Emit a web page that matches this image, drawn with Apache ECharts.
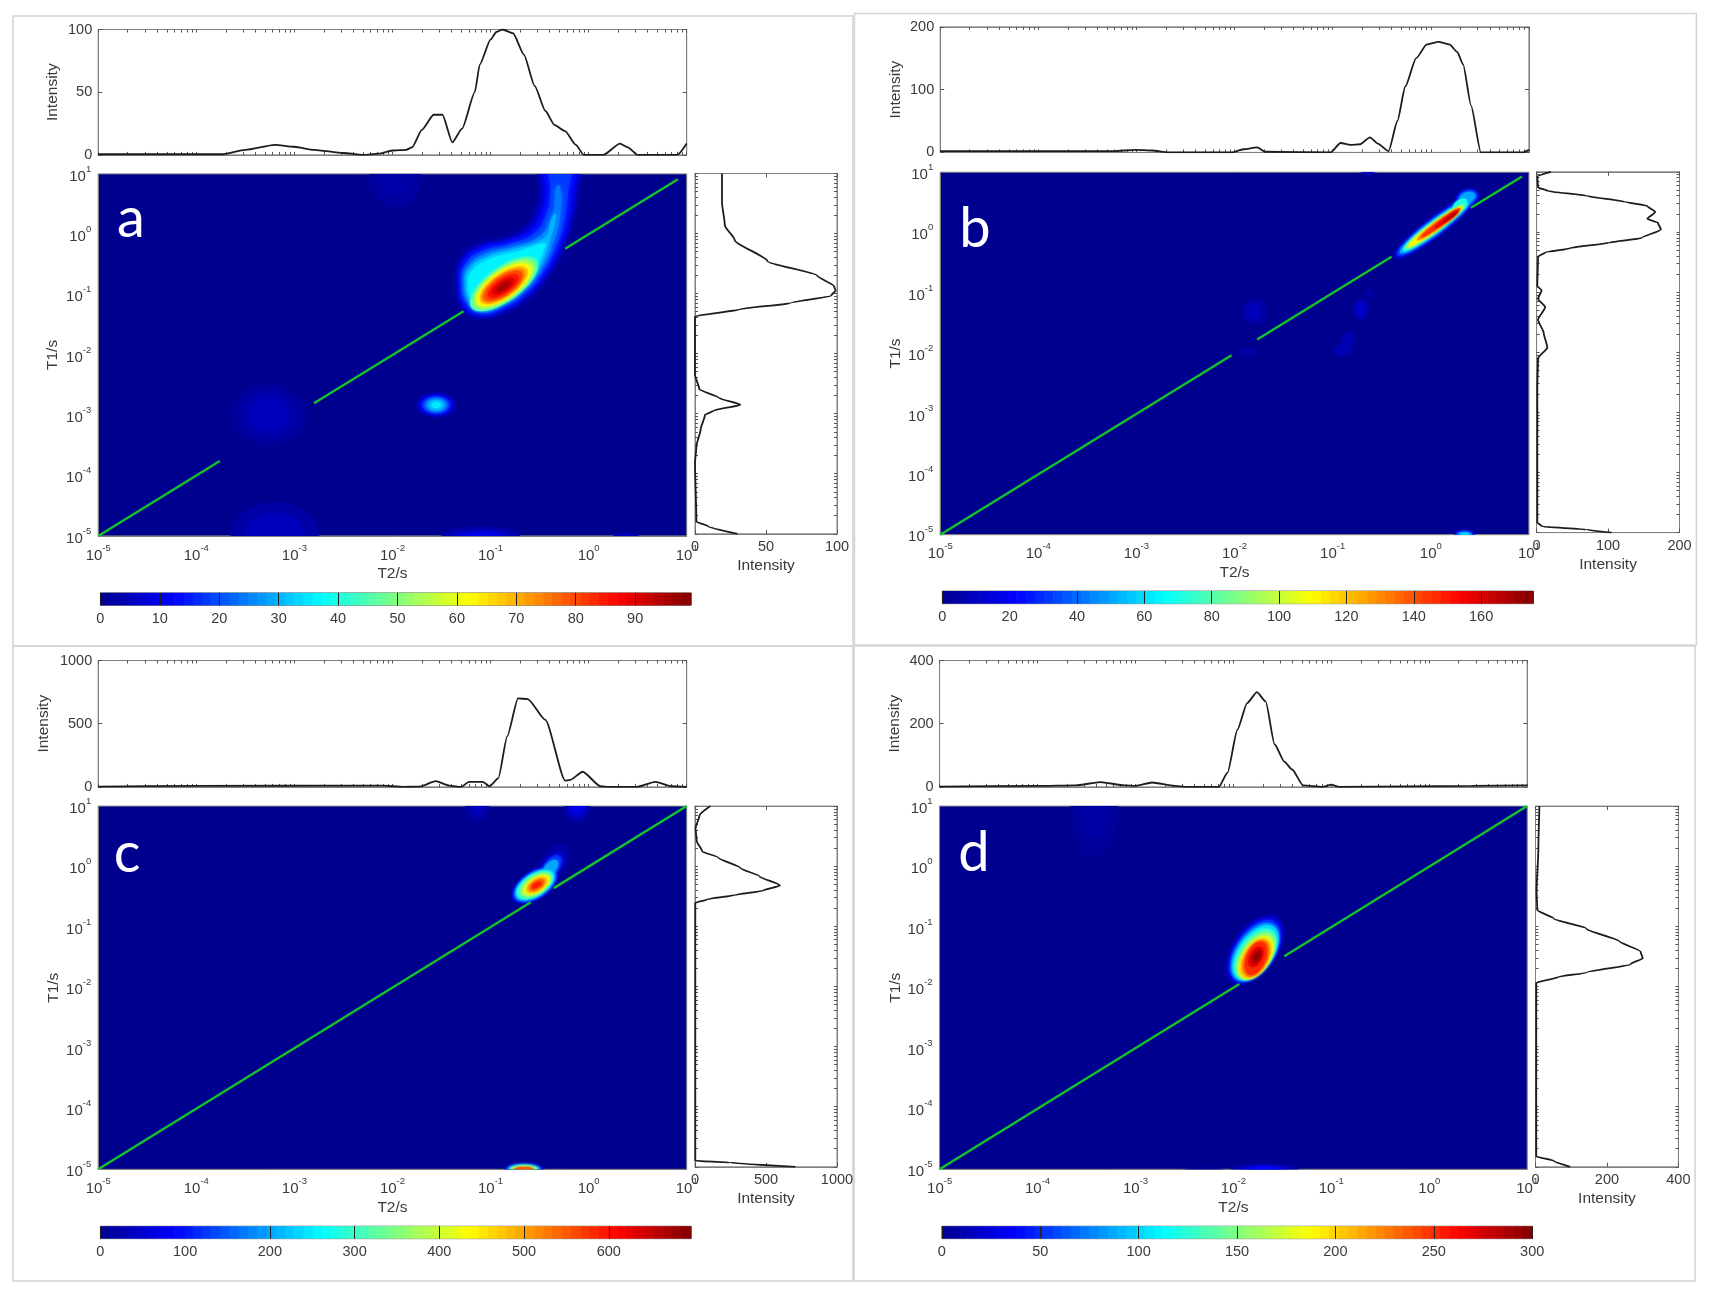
<!DOCTYPE html>
<html><head><meta charset="utf-8">
<script src="https://cdn.jsdelivr.net/npm/echarts@6/dist/echarts.min.js"></script>
<style>html,body{margin:0;background:#fff}#c{width:1712px;height:1296px}#c canvas{filter:blur(.6px)}</style>
</head><body><div id="c"></div>
<script>
// Horizontal profiles: exponent of T2 and intensity
const topExpA=[-5,-4,-3.74,-3.5,-3.2,-3,-2.8,-2.5,-2.3,-2.14,-2,-1.86,-1.8,-1.7,-1.58,-1.49,-1.39,-1.29,-1.16,-1.11,-1,-.94,-.88,-.77,-.66,-.55,-.44,-.35,-.24,-.13,-.05,.15,.32,.4,.5,.905,1];
const topValA=[.5,.5,.5,4,8,6.5,4,1.5,0,1,3.5,4,6,20,32,32,10,21,50,72,92,98,100,97,80,55,35,24,19,8,0,0,9,6,0,0,9];
const topExpB=[-5,-3.23,-3.01,-2.84,-2.68,-2.03,-1.91,-1.77,-1.69,-1.02,-.92,-.82,-.72,-.62,-.54,-.43,-.34,-.26,-.15,-.04,.08,.19,.27,.33,.41,.51,.94,1];
const topValB=[2,2,4,3,0,0,5,8,1,0,15,12,13,24,14,2,50,105,150,172,176,172,160,140,75,0,0,4];
const topExpC=[-5,-4.04,-2.09,-1.89,-1.72,-1.56,-1.42,-1.3,-1.22,-1.08,-1.01,-.92,-.83,-.72,-.62,-.44,-.24,-.19,-.06,.12,.21,.49,.68,.85,1];
const topValC=[2,8,10,0,2,45,10,0,40,40,5,70,400,700,695,530,50,55,120,5,0,0,40,5,0];
const topExpD=[-5,-4.01,-3.61,-3.36,-3.11,-3,-2.83,-2.6,-2.49,-2.15,-2.06,-1.96,-1.86,-1.76,-1.67,-1.58,-1.48,-1.4,-1.29,-1.09,-1,-.92,.43,1];
const topValD=[1,3,5,15,5,3,14,3,0,0,45,180,265,300,270,135,80,55,5,0,7,0,3,5];
// Vertical profiles: exponent of T1 and intensity
const sideExpA=[1,.52,.14,-.11,-.46,-.7,-.88,-.95,-1.03,-1.16,-1.26,-1.38,-2.35,-2.59,-2.74,-2.85,-2.95,-3.02,-3.26,-3.54,-3.82,-4.8,-4.87,-5];
const sideValA=[19,19,21,28,51,86,98,99,96,67,32,0,0,3,17,32,13,7,4,1,0,1,9,30];
const sideExpB=[1,.92,.74,.68,.6,.5,.43,.33,.22,.15,.04,-.1,-.18,-.27,-.34,-.41,-.9,-.97,-1.11,-1.25,-1.46,-1.68,-1.92,-2.1,-2.59,-4.83,-4.9,-4.95,-5];
const sideValB=[20,1,2,16,70,124,155,166,155,170,174,147,101,47,12,2,1,7,2,12,2,10,15,2,1,1,8,70,105];
const sideExpC=[1,.84,.63,.42,.25,.14,-.03,-.17,-.32,-.41,-.48,-.55,-.61,-4.9,-4.93,-5];
const sideValC=[108,31,4,12,50,166,320,456,598,475,282,89,2,2,243,707];
const sideExpD=[1,.28,-.41,-.73,-.87,-1.04,-1.25,-1.42,-1.53,-1.63,-1.77,-1.84,-1.94,-4.83,-4.9,-5];
const sideValD=[11,8,3,5,51,143,235,294,300,266,143,66,2,2,51,97];
// Diagonal T1=T2: visible stretches (exponents)
const diagA=[[-5,-3.76],[-2.8,-1.275],[-.24,.91]];
const diagB=[[-5,-2.03],[-1.77,-.4],[.41,.93]];
const diagC=[[-5,-.59],[-.355,1]];
const diagD=[[-5,-1.94],[-1.48,1]];
// Axis ticks
const decades=[1e-5,1e-4,1e-3,1e-2,1e-1,1];
const decadeSteps=[1,2,3,4,5,6,7,8,9];
const intensityTicksA=[0,50,100], intensityTicksB=[0,100,200], intensityTicksC=[0,500,1000], intensityTicksD=[0,200,400];
const barTicksA=[0,10,20,30,40,50,60,70,80,90], barTicksB=[0,20,40,60,80,100,120,140,160], barTicksC=[0,100,200,300,400,500,600], barTicksD=[0,50,100,150,200,250,300];
const barMaxA=99.4, barMaxB=175.5, barMaxC=697, barMaxD=300;
// T1-T2 map contours: [level, [[T2 exponent, T1 exponent], ...]]
const contoursA=[
[6,[[-.48,1.07],[-.49,.73],[-.53,.4],[-.63,.13],[-.83,-.07],[-1.11,-.18],[-1.29,-.4],[-1.34,-.81],[-1.28,-1.23],[-1.11,-1.37],[-.87,-1.28],[-.63,-1.06],[-.43,-.7],[-.27,-.26],[-.17,.24],[-.12,.73],[-.11,1.07]]],
[12,[[-.43,1.07],[-.44,.73],[-.48,.37],[-.59,.07],[-.82,-.11],[-1.09,-.22],[-1.27,-.44],[-1.31,-.81],[-1.26,-1.2],[-1.1,-1.33],[-.875,-1.245],[-.65,-1.02],[-.45,-.675],[-.3,-.23],[-.205,.25],[-.155,.73],[-.15,1.07]]],
[18,[[-.385,1.07],[-.39,.73],[-.43,.35],[-.56,.015],[-.8,-.16],[-1.07,-.27],[-1.25,-.48],[-1.29,-.81],[-1.235,-1.17],[-1.09,-1.3],[-.885,-1.21],[-.665,-.99],[-.48,-.65],[-.33,-.205],[-.245,.25],[-.205,.73],[-.2,1.07]]],
[24,[[-.33,.79],[-.37,.32],[-.5,-.03],[-.78,-.21],[-1.045,-.32],[-1.23,-.53],[-1.27,-.81],[-1.215,-1.145],[-1.08,-1.26],[-.895,-1.18],[-.68,-.96],[-.5,-.62],[-.365,-.18],[-.29,.29],[-.29,.79]]],
[30,[[-.36,.32],[-.46,-.07],[-.77,-.25],[-1.02,-.36],[-1.215,-.57],[-1.25,-.81],[-1.2,-1.12],[-1.07,-1.23],[-.9,-1.145],[-.7,-.935],[-.52,-.59],[-.41,-.18],[-.33,.32]]],
[36,[[-.44,-.15],[-.73,-.29],[-.99,-.4],[-1.19,-.61],[-1.23,-.81],[-1.185,-1.09],[-1.065,-1.2],[-.91,-1.12],[-.715,-.91],[-.545,-.58],[-.46,-.26]]]
];
// Elliptical contours: [level, T2 exponent, T1 exponent, T2 half width, T1 half width, tilt]
const ringsA=[
[1.5,-3.26,-2.99,.38,.5,0],[3,-3.26,-2.99,.3,.4,0],[5,-3.26,-2.99,.2,.28,0],
[2,-1.97,.95,.26,.5,0],[3,-1.97,1,.18,.35,0],
[2.5,-3.2,-5,.45,.55,0],[5,-3.2,-5,.3,.38,0],
[3,-1.1,-5,.4,.15,0],[7,-1.1,-5,.3,.09,0],[10,-1.1,-5,.2,.05,0],
[5,.38,-5,.13,.04,0],
[4,-1.555,-2.83,.2,.2,0],[10,-1.555,-2.83,.17,.17,0],[18,-1.555,-2.83,.14,.14,0],[25,-1.555,-2.83,.11,.115,0],[30,-1.555,-2.83,.08,.085,0],[35,-1.555,-2.83,.05,.05,0],
[44,-.862,-.824,.347,.33,.89],[50,-.862,-.83,.32,.3,.89],[56,-.865,-.835,.295,.275,.89],[62,-.865,-.84,.27,.25,.89],[68,-.865,-.845,.245,.225,.89],[74,-.87,-.85,.22,.2,.89],[80,-.87,-.855,.195,.175,.89],[85,-.87,-.86,.155,.135,.89],[90,-.87,-.865,.115,.095,.89],[95,-.87,-.87,.07,.055,.89]
];
const ringsB=[
[5,-1.8,-1.31,.12,.2,0],[8,-1.8,-1.31,.07,.13,0],[8,-.71,-1.27,.07,.17,0],[12,-.71,-1.27,.04,.1,0],[7,-.85,-1.83,.07,.18,1],[8,-.93,-1.95,.05,.08,0],[5,-.62,-1,.04,.06,0],[4,-1.86,-1.99,.07,.08,0],[12,-.64,1,.07,.03,0],
[20,.345,-5,.1,.07,0],[45,.345,-5,.08,.05,0],[60,.345,-5,.05,.03,0],
[12,.044,.098,.42,.2,1.17],[12,.374,.583,.12,.14,.3],[30,.044,.098,.39,.165,1.17],[30,.374,.583,.1,.115,.3],[50,.044,.098,.36,.14,1.17],[50,.374,.583,.08,.09,.3],[70,.044,.098,.33,.115,1.17],[70,.3,.47,.07,.08,.6],[90,.044,.098,.3,.095,1.17],[110,.044,.098,.27,.08,1.17],[130,.08,.14,.22,.065,1.17],[145,.1,.16,.2,.05,1.17],[155,.16,.22,.12,.04,1.17],[165,.21,.27,.07,.03,1.17]
];
const ringsC=[
[15,-1.135,1,.12,.25,0],[35,-1.135,1,.07,.15,0],[20,-.117,1,.13,.27,0],[40,-.117,1,.1,.2,0],[70,-.117,1,.07,.13,0],
[60,-.66,-5,.2,.1,0],[200,-.66,-5,.17,.085,0],[350,-.66,-5,.14,.07,0],[550,-.66,-5,.1,.04,0],
[20,-.36,.05,.16,.28,1],[40,-.546,-.303,.24,.26,.7],[40,-.376,0,.13,.2,1],[100,-.546,-.303,.225,.245,.7],[120,-.376,0,.1,.16,1],[170,-.546,-.303,.21,.225,.7],[200,-.39,-.03,.08,.12,1],[240,-.546,-.303,.195,.205,.7],[300,-.546,-.303,.18,.19,.7],[360,-.54,-.303,.155,.16,.7],[420,-.529,-.303,.13,.135,.7],[480,-.529,-.303,.105,.11,.7],[540,-.529,-.303,.08,.08,.7],[590,-.529,-.303,.05,.045,.7]
];
const ringsD=[
[4,-3.42,1,.24,.85,0],[8,-3.42,1,.14,.55,0],[5,-2.3,-5,.2,.03,0],[10,-1.68,-5,.35,.08,0],[25,-1.68,-5,.25,.06,0],[40,-1.68,-5,.15,.04,0],
[10,-1.78,-1.37,.3,.5,1],[25,-1.78,-1.38,.28,.47,1],[50,-1.78,-1.39,.26,.44,1],[75,-1.78,-1.41,.245,.415,1],[100,-1.775,-1.42,.235,.39,1],[125,-1.775,-1.44,.215,.36,1],[150,-1.77,-1.47,.2,.335,1],[175,-1.77,-1.5,.18,.31,1],[200,-1.773,-1.515,.163,.287,1],[225,-1.77,-1.515,.14,.27,1],[250,-1.77,-1.515,.115,.25,1],[270,-1.77,-1.49,.075,.15,1],[285,-1.762,-1.487,.05,.095,1],[295,-1.762,-1.487,.025,.05,1]
];

const jet=['#00008f','#0000ff','#0080ff','#00ffff','#80ff80','#ffff00','#ff8000','#ff0000','#800000'];
const pw=e=>Math.pow(10,e);
const logTicks=decades.flatMap(d=>decadeSteps.map(s=>d*s)).concat([10]);
const panels=[
 {letter:'a',letterXY:[131,219],left:98.2,right:686.7,topY:[29.5,154.9],heatY:[173.9,535.9],sideX:[695,837],sideY:[173.5,533.8],bar:[100.4,691,592.8,605.4],
  frame:[13,16,840,630],tE:topExpA,tV:topValA,sE:sideExpA,sV:sideValA,diag:diagA,ticks:intensityTicksA,barTicks:barTicksA,barMax:barMaxA,rings:ringsA,contours:contoursA,gapI:37,gapT:37},
 {letter:'b',letterXY:[975,229],left:940.2,right:1528.9,topY:[26.9,152.4],heatY:[172.2,534.7],sideX:[1536.6,1679.5],sideY:[171.8,532.6],bar:[942.3,1533.3,591,603.7],
  frame:[854.4,13.5,842,631.5],tE:topExpB,tV:topValB,sE:sideExpB,sV:sideValB,diag:diagB,ticks:intensityTicksB,barTicks:barTicksB,barMax:barMaxB,rings:ringsB,contours:[],gapI:36,gapT:36},
 {letter:'c',letterXY:[127,854],left:98.2,right:686.7,topY:[660.5,786.9],heatY:[806.1,1169.3],sideX:[695,837],sideY:[806.1,1166.8],bar:[100.4,691,1226.2,1238.7],
  frame:[13,646,840,635],tE:topExpC,tV:topValC,sE:sideExpC,sV:sideValC,diag:diagC,ticks:intensityTicksC,barTicks:barTicksC,barMax:barMaxC,rings:ringsC,contours:[],gapI:46,gapT:36},
 {letter:'d',letterXY:[974,853],left:939.6,right:1527.2,topY:[660.5,786.9],heatY:[806.1,1169.3],sideX:[1535.5,1678.4],sideY:[806.1,1166.8],bar:[941.8,1532.2,1226.2,1238.7],
  frame:[854,646,841,635],tE:topExpD,tV:topValD,sE:sideExpD,sV:sideValD,diag:diagD,ticks:intensityTicksD,barTicks:barTicksD,barMax:barMaxD,rings:ringsD,contours:[],gapI:37,gapT:36}
];
const txt='#3a3a3a', frameC='#808080', FONT='"Liberation Sans",Arial,sans-serif';
const powLabel=v=>'{b|10}{s|'+Math.round(Math.log10(v))+'}';
const rich={b:{fontSize:15,color:txt,fontFamily:FONT,lineHeight:20,verticalAlign:'bottom'},s:{fontSize:9.5,color:txt,fontFamily:FONT,lineHeight:20,verticalAlign:'top'}};
const logAxis={type:'log',logBase:10,min:1e-5,max:10,splitLine:{show:false},minorSplitLine:{show:false}};
const tickStyle={show:true,inside:true,length:4,lineStyle:{color:'#555',width:1}};
const logTickStyle={show:true,inside:true,length:3,customValues:logTicks,lineStyle:{color:'#555',width:1}};
const numLabel={color:txt,fontSize:14.5,fontFamily:FONT,formatter:v=>String(v)};
const nameStyle={color:txt,fontSize:15.5,fontFamily:FONT};
const lineAxis={show:true,onZero:false,lineStyle:{color:frameC}};
const grid=[],xAxis=[],yAxis=[],series=[],visualMap=[],graphic=[];
const ellipsePts=r=>{const[,cx,cy,rx,ry,k]=r,p=[];for(let i=0;i<60;i++){const t=i/60*2*Math.PI;p.push([cx+rx*Math.cos(t),cy+ry*Math.sin(t)+k*rx*Math.cos(t)]);}return p;};

panels.forEach(p=>{
 const W=p.right-p.left;
 const addGrid=(l,t,w,h,bg)=>{grid.push({left:l,top:t,width:w,height:h,show:true,borderColor:frameC,borderWidth:1,backgroundColor:bg||'#fff'});return grid.length-1;};
 const addX=o=>{xAxis.push(o);return xAxis.length-1;};
 const addY=o=>{yAxis.push(o);return yAxis.length-1;};
 const maxI=p.ticks[2], step=p.ticks[1];

 // top profile
 let g=addGrid(p.left,p.topY[0],W,p.topY[1]-p.topY[0]);
 let xi=addX({...logAxis,gridIndex:g,position:'bottom',axisLine:lineAxis,axisTick:logTickStyle,axisLabel:{show:false}});
 addX({...logAxis,gridIndex:g,position:'top',axisLine:lineAxis,axisTick:logTickStyle,axisLabel:{show:false}});
 let yi=addY({type:'value',gridIndex:g,position:'left',min:0,max:maxI,interval:step,splitLine:{show:false},axisLine:lineAxis,axisTick:tickStyle,axisLabel:{...numLabel,margin:6},name:'Intensity',nameLocation:'middle',nameGap:p.gapI,nameRotate:90,nameTextStyle:nameStyle});
 addY({type:'value',gridIndex:g,position:'right',min:0,max:maxI,interval:step,splitLine:{show:false},axisLine:lineAxis,axisTick:tickStyle,axisLabel:{show:false}});
 series.push({type:'line',xAxisIndex:xi,yAxisIndex:yi,showSymbol:false,silent:true,smooth:.2,smoothMonotone:'x',lineStyle:{color:'#1c1c1c',width:1.8},data:p.tE.map((e,i)=>[pw(e),p.tV[i]])});

 // map
 g=addGrid(p.left,p.heatY[0],W,p.heatY[1]-p.heatY[0],jet[0]);
 xi=addX({...logAxis,gridIndex:g,position:'bottom',axisLine:lineAxis,axisTick:{show:false},axisLabel:{formatter:powLabel,rich,margin:7,showMinLabel:true,showMaxLabel:true},name:'T2/s',nameLocation:'middle',nameGap:30,nameTextStyle:nameStyle});
 yi=addY({...logAxis,gridIndex:g,position:'left',axisLine:lineAxis,axisTick:{show:false},axisLabel:{formatter:powLabel,rich,margin:7,showMinLabel:true,showMaxLabel:true},name:'T1/s',nameLocation:'middle',nameGap:p.gapT,nameRotate:90,nameTextStyle:nameStyle});
 const shapes=[...p.contours.map(c=>({level:c[0],pts:c[1],smooth:.5,blur:6})),...p.rings.map(r=>({level:r[0],pts:ellipsePts(r),smooth:0,blur:3}))].sort((a,b)=>a.level-b.level);
 const ringIdx=series.length;
 series.push({type:'custom',coordinateSystem:'cartesian2d',xAxisIndex:xi,yAxisIndex:yi,clip:true,silent:true,z:2,
   encode:{x:0,y:1},
   data:shapes.map(s=>[pw(s.pts[0][0]),pw(s.pts[0][1]),s.level]),
   renderItem:(params,api)=>{const s=shapes[params.dataIndex],c=api.visual('color');
     return {type:'polygon',shape:{points:s.pts.map(q=>api.coord([pw(q[0]),pw(q[1])])),smooth:s.smooth},style:{fill:c,shadowBlur:s.blur,shadowColor:c}};}});
 p.diag.forEach(seg=>series.push({type:'line',xAxisIndex:xi,yAxisIndex:yi,showSymbol:false,silent:true,z:3,lineStyle:{color:'#12c428',width:2.4},data:seg.map(e=>[pw(e),pw(e)])}));

 // side profile
 g=addGrid(p.sideX[0],p.sideY[0],p.sideX[1]-p.sideX[0],p.sideY[1]-p.sideY[0]);
 xi=addX({type:'value',gridIndex:g,min:0,max:maxI,interval:step,position:'bottom',splitLine:{show:false},axisLine:lineAxis,axisTick:tickStyle,axisLabel:{...numLabel,margin:6,showMaxLabel:true,showMinLabel:true},name:'Intensity',nameLocation:'middle',nameGap:24,nameTextStyle:nameStyle});
 addX({type:'value',gridIndex:g,min:0,max:maxI,interval:step,position:'top',splitLine:{show:false},axisLine:lineAxis,axisTick:tickStyle,axisLabel:{show:false}});
 yi=addY({...logAxis,gridIndex:g,position:'left',axisLine:lineAxis,axisTick:logTickStyle,axisLabel:{show:false}});
 addY({...logAxis,gridIndex:g,position:'right',axisLine:lineAxis,axisTick:logTickStyle,axisLabel:{show:false}});
 series.push({type:'line',xAxisIndex:xi,yAxisIndex:yi,showSymbol:false,silent:true,smooth:.2,smoothMonotone:'y',lineStyle:{color:'#1c1c1c',width:1.8},data:p.sE.map((e,i)=>[p.sV[i],pw(e)])});

 // colour bar
 g=addGrid(p.bar[0],p.bar[2],p.bar[1]-p.bar[0],p.bar[3]-p.bar[2]);
 xi=addX({type:'value',gridIndex:g,z:6,min:0,max:p.barMax,splitLine:{show:false},axisLine:{show:false},axisTick:{show:true,inside:true,length:p.bar[3]-p.bar[2],customValues:p.barTicks,lineStyle:{color:'#222',width:1}},axisLabel:{...numLabel,margin:6,customValues:p.barTicks,showMaxLabel:true,showMinLabel:true}});
 yi=addY({type:'value',gridIndex:g,min:0,max:1,show:false});
 const steps=Array.from({length:64},(_,i)=>[i/64*p.barMax,(i+1)/64*p.barMax,(i+.5)/64*p.barMax]);
 const barIdx=series.length;
 series.push({type:'custom',coordinateSystem:'cartesian2d',xAxisIndex:xi,yAxisIndex:yi,silent:true,z:2,encode:{x:0},
   data:steps,renderItem:(params,api)=>{const a=api.coord([api.value(0),0]),b=api.coord([api.value(1),1]);
     return {type:'rect',shape:{x:a[0],y:b[1],width:b[0]-a[0]+.6,height:a[1]-b[1]},style:{fill:api.visual('color')}};}});
 visualMap.push({show:false,type:'continuous',dimension:2,seriesIndex:[ringIdx,barIdx],min:0,max:p.barMax,inRange:{color:jet}});

 graphic.push({type:'rect',silent:true,z:0,shape:{x:p.frame[0],y:p.frame[1],width:p.frame[2],height:p.frame[3]},style:{fill:'none',stroke:'#d4d4d4',lineWidth:1.6}});
 graphic.push({type:'text',silent:true,z:100,x:p.letterXY[0],y:p.letterXY[1],style:{text:p.letter,fill:'#fff',font:'56px Lato,"Open Sans",sans-serif',textAlign:'center',textVerticalAlign:'middle'}});
});

const chart=echarts.init(document.getElementById('c'),null,{renderer:'canvas'});
chart.setOption({animation:false,backgroundColor:'#fff',grid,xAxis,yAxis,series,visualMap,graphic,tooltip:{show:false}});
</script></body></html>
